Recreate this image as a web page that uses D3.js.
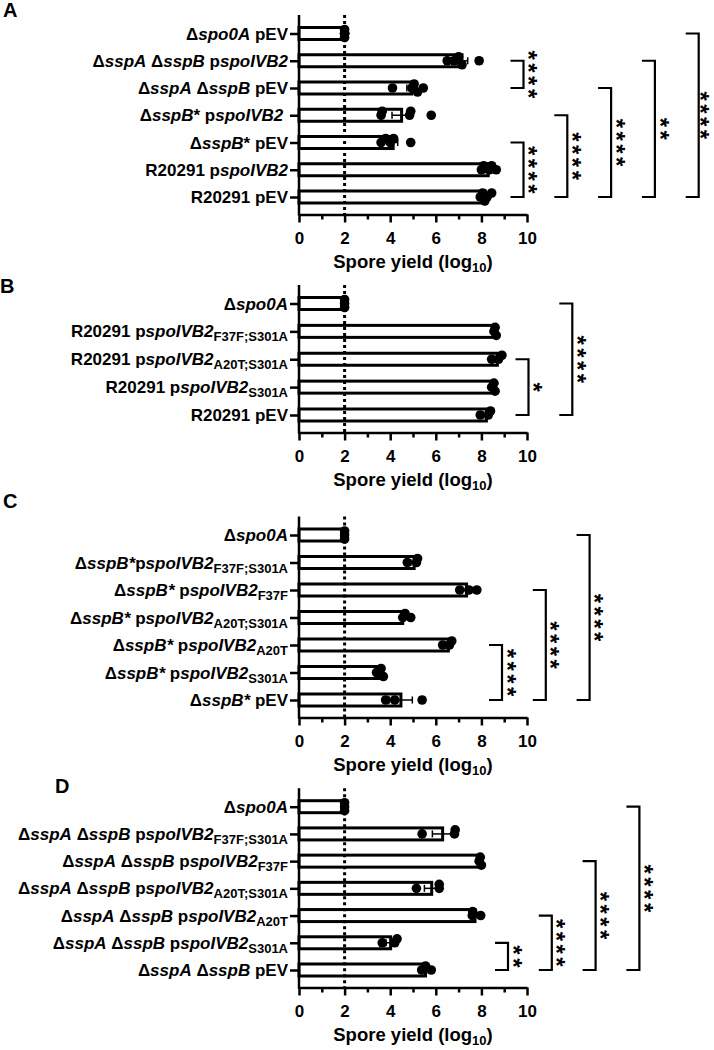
<!DOCTYPE html>
<html>
<head>
<meta charset="utf-8">
<script src="https://cdn.jsdelivr.net/npm/d3@7/dist/d3.min.js"></script>
<style>
  body { margin: 0; background: #fff; }
  text { font-family: "Liberation Sans", Arial, sans-serif; font-weight: bold; }
</style>
</head>
<body>
<script>
// ---- data ----
var xMajorTicks = [0, 2, 4, 6, 8, 10];
var xMinorTicks = [1, 3, 5, 7, 9];
var detectionLimit = 2;
var axisTitle = "Spore yield (log[10])";

// {..} = italic, [..] = subscript
var labelsA = ["Δ{spo0A} pEV", "Δ{sspA} Δ{sspB} p{spoIVB2}", "Δ{sspA} Δ{sspB} pEV",
  "Δ{sspB}* p{spoIVB2}\u00a0", "Δ{sspB}* pEV", "R20291 p{spoIVB2}", "R20291 pEV"];
var meansA = [2.0, 7.15, 4.95, 4.5, 4.13, 8.3, 8.17];
var errA = [0, 0.25, 0.22, 0.42, 0.2, 0.12, 0.08];
var pointsA = [[2, 2, 2, 2, 2], [6.5, 6.8, 7.0, 7.15, 7.9], [4.1, 4.95, 5.05, 5.2, 5.45],
  [3.6, 3.65, 4.85, 4.9, 5.8], [3.6, 3.8, 4.0, 4.15, 4.9], [8.0, 8.1, 8.35, 8.45, 8.65],
  [7.95, 8.05, 8.15, 8.25, 8.45]];
var bracketsA = [{from: 1, to: 2, label: "****", col: 0}, {from: 4, to: 6, label: "****", col: 0},
  {from: 3, to: 6, label: "****", col: 1}, {from: 2, to: 6, label: "****", col: 2},
  {from: 1, to: 6, label: "**", col: 3}, {from: 0, to: 6, label: "****", col: 4}];

var labelsB = ["Δ{spo0A}", "R20291 p{spoIVB2}[F37F;S301A]", "R20291 p{spoIVB2}[A20T;S301A]",
  "R20291 p{spoIVB2}[S301A]", "R20291 pEV"];
var meansB = [2.0, 8.6, 8.7, 8.5, 8.22];
var errB = [0, 0.03, 0.13, 0.05, 0.13];
var pointsB = [[2, 2, 2], [8.55, 8.6, 8.65], [8.45, 8.75, 8.9], [8.45, 8.55, 8.6], [7.95, 8.3, 8.4]];
var bracketsB = [{from: 2, to: 4, label: "*", col: 0}, {from: 0, to: 4, label: "****", col: 1}];

var labelsC = ["Δ{spo0A}", "Δ{sspB*}p{spoIVB2}[F37F;S301A]", "Δ{sspB*} p{spoIVB2}[F37F]",
  "Δ{sspB*} p{spoIVB2}[A20T;S301A]", "Δ{sspB*} p{spoIVB2}[A20T]", "Δ{sspB*} p{spoIVB2}[S301A]",
  "Δ{sspB*} pEV"];
var meansC = [2.0, 5.05, 7.35, 4.55, 6.55, 3.55, 4.47];
var errC = [0, 0.15, 0.22, 0.08, 0.12, 0.1, 0.5];
var pointsC = [[2, 2, 2], [4.75, 5.15, 5.2], [7.05, 7.45, 7.8], [4.55, 4.65, 4.9],
  [6.3, 6.6, 6.7], [3.4, 3.6, 3.7], [3.8, 4.2, 5.4]];
var bracketsC = [{from: 4, to: 6, label: "****", col: 0}, {from: 2, to: 6, label: "****", col: 1},
  {from: 0, to: 6, label: "****", col: 2}];

var labelsD = ["Δ{spo0A}", "Δ{sspA} Δ{sspB} p{spoIVB2}[F37F;S301A]", "Δ{sspA} Δ{sspB} p{spoIVB2}[F37F]",
  "Δ{sspA} Δ{sspB} p{spoIVB2}[A20T;S301A]", "Δ{sspA} Δ{sspB} p{spoIVB2}[A20T]",
  "Δ{sspA} Δ{sspB} p{spoIVB2}[S301A]", "Δ{sspA} Δ{sspB} pEV"];
var meansD = [2.0, 6.3, 7.95, 5.82, 7.72, 4.02, 5.55];
var errD = [0, 0.45, 0.03, 0.32, 0.12, 0.2, 0.12];
var pointsD = [[2, 2, 2], [5.4, 6.82, 6.85], [7.9, 7.95, 8.0], [5.15, 6.15, 6.15],
  [7.6, 7.62, 7.97], [3.65, 4.2, 4.3], [5.38, 5.55, 5.8]];
var bracketsD = [{from: 5, to: 6, label: "**", col: 0}, {from: 4, to: 6, label: "****", col: 1},
  {from: 2, to: 6, label: "****", col: 2}, {from: 0, to: 6, label: "****", col: 3}];

// ---- layout ----
var panels = [
  {letter: "A", labels: labelsA, means: meansA, err: errA, points: pointsA, brackets: bracketsA,
   first: 33.5, last: 197, lx: 3, ly: 17, bx: 523.5},
  {letter: "B", labels: labelsB, means: meansB, err: errB, points: pointsB, brackets: bracketsB,
   first: 303.5, last: 415, lx: 0, ly: 293, bx: 528.5},
  {letter: "C", labels: labelsC, means: meansC, err: errC, points: pointsC, brackets: bracketsC,
   first: 535, last: 700, lx: 3, ly: 508, bx: 502},
  {letter: "D", labels: labelsD, means: meansD, err: errD, points: pointsD, brackets: bracketsD,
   first: 806.7, last: 970, lx: 55, ly: 793, bx: 508}
];

var W = 714, H = 1050;
var xScale = d3.scaleLinear().domain([0, 10]).range([299, 527]);
var barH = 12, r = 4.8, colGap = 43.8, arm = 13;
var starSize = 24, starStep = 12.8;
var starSpacing = starStep - 0.389 * starSize;   // letter-spacing so stars sit starStep apart

var svg = d3.select("body").append("svg").attr("width", W).attr("height", H);

// write a label with italic / subscript parts as tspans
function richText(sel, str, size, subSize) {
  var parts = str.split(/(\{[^}]*\}|\[[^\]]*\])/).filter(function(s){ return s.length; });
  var shifted = false;
  parts.forEach(function(p) {
    var t = sel.append("tspan");
    if (p[0] === "[") {
      t.text(p.slice(1, -1)).attr("font-size", subSize).attr("dy", 4);
      shifted = true;
    } else {
      if (p[0] === "{") { t.text(p.slice(1, -1)).attr("font-style", "italic"); }
      else { t.text(p); }
      t.attr("font-size", size);
      if (shifted) { t.attr("dy", -4); shifted = false; }
    }
  });
}

panels.forEach(function(pn) {
  var n = pn.labels.length;
  var yScale = d3.scalePoint().domain(d3.range(n)).range([pn.first, pn.last]);
  var top = pn.first - 18.5, bottom = pn.last + 17.5;
  var g = svg.append("g");

  // panel letter
  g.append("text").attr("x", pn.lx).attr("y", pn.ly).attr("font-size", 20).text(pn.letter);

  // bars
  g.selectAll("rect.bar").data(pn.means).enter().append("rect")
    .attr("class", "bar")
    .attr("x", xScale(0))
    .attr("y", function(d, i){ return yScale(i) - barH / 2; })
    .attr("width", function(d){ return xScale(d) - xScale(0); })
    .attr("height", barH)
    .attr("fill", "#fff").attr("stroke", "#000").attr("stroke-width", 3);

  // detection limit
  g.append("line")
    .attr("x1", xScale(detectionLimit)).attr("x2", xScale(detectionLimit))
    .attr("y1", top).attr("y2", bottom)
    .attr("stroke", "#000").attr("stroke-width", 3).attr("stroke-dasharray", "3,3");

  // error bars
  pn.means.forEach(function(m, i) {
    var e = pn.err[i];
    if (!e) return;
    var y = yScale(i);
    var eg = g.append("g").attr("stroke", "#000").attr("stroke-width", 1.5);
    eg.append("line").attr("x1", xScale(m - e)).attr("x2", xScale(m + e)).attr("y1", y).attr("y2", y);
    [m - e, m + e].forEach(function(v) {
      eg.append("line").attr("x1", xScale(v)).attr("x2", xScale(v)).attr("y1", y - 3.5).attr("y2", y + 3.5);
    });
  });

  // points, spread vertically when they overlap
  pn.points.forEach(function(vals, i) {
    var placed = [];
    vals.slice().sort(d3.ascending).forEach(function(v) {
      var px = xScale(v), best = 0, bestD = -1;
      [0, -4, 4].some(function(off) {
        var md = d3.min(placed, function(p){ return Math.hypot(p.x - px, p.dy - off); });
        if (md === undefined) md = 99;
        if (md > bestD) { bestD = md; best = off; }
        return md >= 6;
      });
      placed.push({x: px, dy: best});
    });
    g.selectAll(null).data(placed).enter().append("circle")
      .attr("cx", function(d){ return d.x; })
      .attr("cy", function(d){ return yScale(i) + d.dy; })
      .attr("r", r).attr("fill", "#000");
  });

  // y axis
  g.append("line").attr("x1", xScale(0)).attr("x2", xScale(0)).attr("y1", top).attr("y2", bottom + 1.2)
    .attr("stroke", "#000").attr("stroke-width", 2.5);
  var yAx = g.append("g").attr("transform", "translate(" + xScale(0) + ",0)")
    .call(d3.axisLeft(yScale).tickSize(9).tickSizeOuter(0).tickFormat(""));
  yAx.select(".domain").remove();
  yAx.selectAll("line").attr("stroke-width", 2.5);
  pn.labels.forEach(function(lab, i) {
    var t = g.append("text").attr("x", 288).attr("y", yScale(i) + 6)
      .attr("text-anchor", "end").style("white-space", "pre");
    richText(t, lab, 17, 13);
  });

  // x axis
  var xAx = g.append("g").attr("transform", "translate(0," + bottom + ")")
    .call(d3.axisBottom(xScale).tickValues(xMajorTicks).tickSize(8).tickSizeOuter(0).tickPadding(9));
  xAx.select(".domain").attr("stroke-width", 2.5);
  xAx.selectAll("line").attr("stroke-width", 2.5);
  xAx.selectAll("text").attr("font-size", 17).attr("font-family", "Liberation Sans, Arial, sans-serif");
  var xMin = g.append("g").attr("transform", "translate(0," + bottom + ")")
    .call(d3.axisBottom(xScale).tickValues(xMinorTicks).tickSize(5).tickFormat(""));
  xMin.select(".domain").remove();
  xMin.selectAll("line").attr("stroke-width", 2.5);

  var tt = g.append("text").attr("x", (xScale(0) + xScale(10)) / 2).attr("y", bottom + 53)
    .attr("text-anchor", "middle");
  richText(tt, axisTitle, 18.5, 13);

  // significance brackets; stars written as one vertical (rotated) text
  pn.brackets.forEach(function(b) {
    var vx = pn.bx + b.col * colGap;
    var y1 = yScale(b.from), y2 = yScale(b.to);
    var cy = (y1 + y2) / 2;
    g.append("path")
      .attr("d", "M" + (vx - arm) + "," + y1 + "H" + vx + "V" + y2 + "H" + (vx - arm))
      .attr("fill", "none").attr("stroke", "#000").attr("stroke-width", 2.2);
    var cx = Math.min(vx + 10.5, W - 0.34 * starSize - 0.5);
    g.append("text")
      .attr("transform", "translate(" + cx + "," + cy + ") rotate(90)")
      .attr("x", starSpacing / 2)
      .attr("y", 0.575 * starSize)
      .attr("text-anchor", "middle")
      .attr("font-size", starSize)
      .attr("letter-spacing", starSpacing)
      .text(b.label);
  });
});
</script>
</body>
</html>
